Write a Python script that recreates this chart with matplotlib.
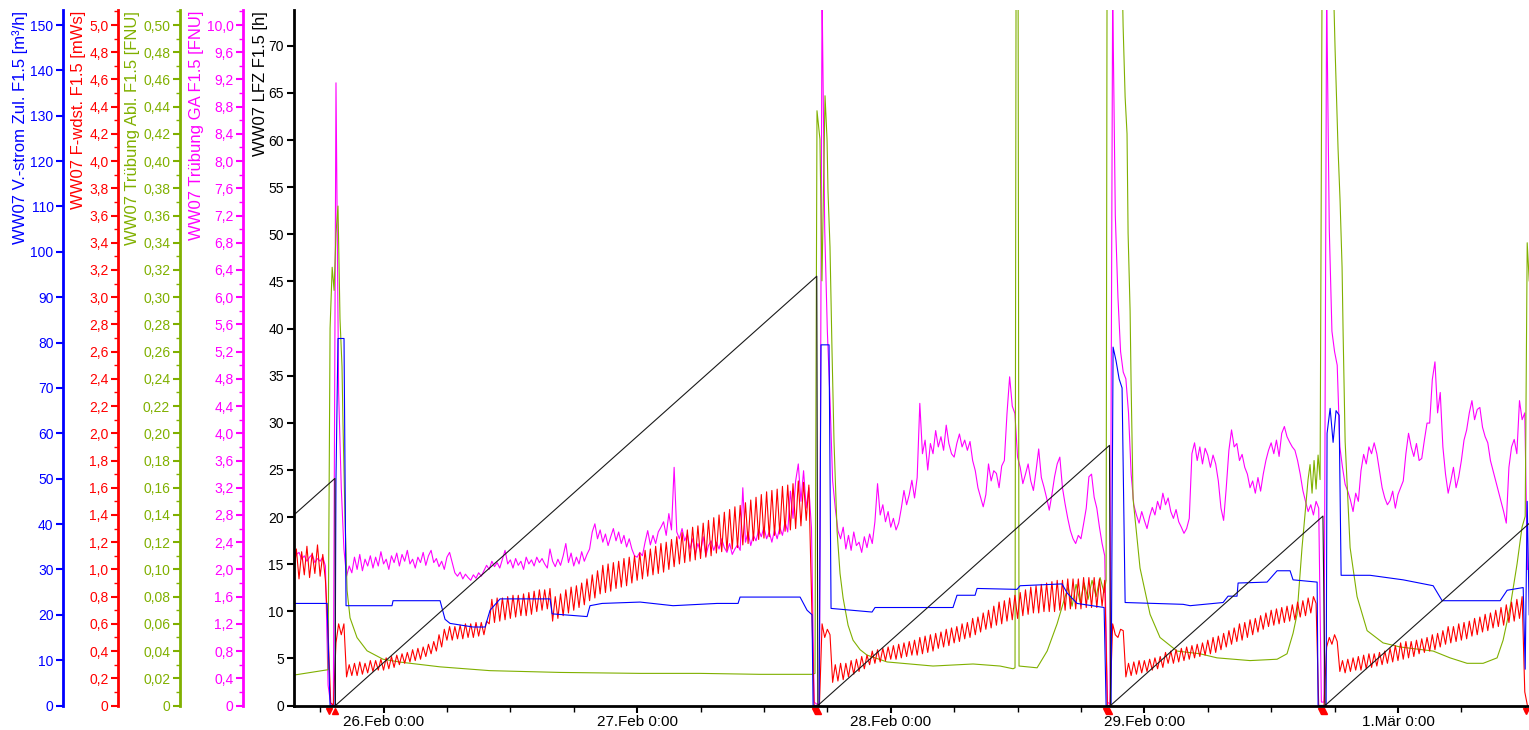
import datetime as dt

import matplotlib
matplotlib.use("Agg")
import matplotlib.pyplot as plt
import matplotlib.dates as mdates
from matplotlib.ticker import MultipleLocator, FuncFormatter
import numpy as np
import pandas as pd

plt.rcParams['font.family'] = ['Liberation Sans', 'DejaVu Sans']

T0 = dt.datetime(2024, 2, 26)
LOG_START = "2024-02-25 15:30"   # 15-min logger values start here

# WW07 F-wdst. F1.5 [mWs], 15-min values
red_mws = [
    0.95, 1.15, 0.93, 1.13, 0.96, 1.17, 0.94, 1.12, 0.97, 1.18,
    0.95, 1.11, 0.92, 0.55, 0.02, 0.00, 0.46, 0.60, 0.52, 0.60,
    0.21, 0.30, 0.22, 0.31, 0.22, 0.32, 0.23, 0.31, 0.24, 0.33,
    0.25, 0.33, 0.26, 0.34, 0.26, 0.35, 0.27, 0.36, 0.28, 0.37,
    0.30, 0.38, 0.31, 0.39, 0.32, 0.41, 0.33, 0.42, 0.34, 0.43,
    0.36, 0.45, 0.38, 0.47, 0.40, 0.52, 0.43, 0.56, 0.48, 0.58,
    0.48, 0.58, 0.49, 0.59, 0.49, 0.60, 0.50, 0.60, 0.50, 0.61,
    0.51, 0.61, 0.52, 0.62, 0.60, 0.78, 0.61, 0.79, 0.62, 0.79,
    0.63, 0.80, 0.64, 0.81, 0.65, 0.81, 0.66, 0.82, 0.66, 0.83,
    0.67, 0.84, 0.69, 0.85, 0.70, 0.85, 0.71, 0.86, 0.62, 0.80,
    0.64, 0.82, 0.66, 0.85, 0.68, 0.87, 0.70, 0.88, 0.72, 0.90,
    0.74, 0.93, 0.77, 0.96, 0.79, 0.99, 0.82, 1.03, 0.83, 1.04,
    0.84, 1.05, 0.86, 1.06, 0.87, 1.08, 0.88, 1.09, 0.90, 1.10,
    0.92, 1.12, 0.93, 1.14, 0.95, 1.15, 0.96, 1.17, 0.97, 1.19,
    0.98, 1.20, 1.00, 1.22, 1.02, 1.24, 1.04, 1.27, 1.05, 1.29,
    1.06, 1.31, 1.07, 1.32, 1.08, 1.34, 1.09, 1.36, 1.10, 1.38,
    1.12, 1.40, 1.13, 1.42, 1.14, 1.44, 1.15, 1.46, 1.16, 1.47,
    1.18, 1.49, 1.19, 1.51, 1.21, 1.53, 1.22, 1.55, 1.23, 1.57,
    1.24, 1.58, 1.25, 1.59, 1.26, 1.61, 1.28, 1.62, 1.29, 1.63,
    1.30, 1.65, 1.32, 1.64, 1.36, 1.62, 0.80, 0.00, 0.00, 0.00,
    0.60, 0.50, 0.56, 0.52, 0.17, 0.30, 0.18, 0.31, 0.19, 0.31,
    0.21, 0.33, 0.23, 0.34, 0.25, 0.36, 0.27, 0.37, 0.30, 0.40,
    0.31, 0.41, 0.32, 0.42, 0.33, 0.43, 0.34, 0.44, 0.34, 0.45,
    0.35, 0.46, 0.36, 0.47, 0.37, 0.48, 0.37, 0.50, 0.38, 0.51,
    0.39, 0.52, 0.40, 0.53, 0.42, 0.54, 0.43, 0.56, 0.44, 0.57,
    0.46, 0.58, 0.47, 0.60, 0.49, 0.61, 0.50, 0.64, 0.52, 0.65,
    0.54, 0.68, 0.56, 0.70, 0.57, 0.73, 0.59, 0.76, 0.60, 0.77,
    0.62, 0.79, 0.63, 0.81, 0.64, 0.83, 0.66, 0.85, 0.67, 0.87,
    0.68, 0.88, 0.68, 0.89, 0.69, 0.90, 0.69, 0.91, 0.69, 0.92,
    0.70, 0.92, 0.70, 0.93, 0.71, 0.93, 0.71, 0.93, 0.71, 0.94,
    0.72, 0.94, 0.72, 0.94, 0.72, 0.93, 0.73, 0.92, 0.00, 0.00,
    0.60, 0.52, 0.50, 0.56, 0.55, 0.21, 0.31, 0.22, 0.32, 0.23,
    0.33, 0.24, 0.33, 0.25, 0.34, 0.26, 0.35, 0.27, 0.36, 0.28,
    0.39, 0.31, 0.40, 0.31, 0.41, 0.32, 0.42, 0.33, 0.43, 0.34,
    0.44, 0.35, 0.45, 0.36, 0.46, 0.37, 0.48, 0.38, 0.50, 0.39,
    0.51, 0.41, 0.53, 0.43, 0.55, 0.45, 0.57, 0.47, 0.60, 0.48,
    0.61, 0.50, 0.63, 0.52, 0.64, 0.54, 0.66, 0.56, 0.68, 0.58,
    0.70, 0.59, 0.71, 0.60, 0.72, 0.61, 0.73, 0.62, 0.74, 0.63,
    0.76, 0.65, 0.77, 0.66, 0.79, 0.68, 0.80, 0.75, 0.00, 0.00,
    0.00, 0.43, 0.50, 0.45, 0.52, 0.47, 0.25, 0.33, 0.24, 0.34,
    0.25, 0.35, 0.26, 0.36, 0.26, 0.37, 0.27, 0.38, 0.28, 0.38,
    0.29, 0.39, 0.30, 0.40, 0.31, 0.42, 0.32, 0.44, 0.33, 0.46,
    0.34, 0.47, 0.35, 0.47, 0.36, 0.48, 0.38, 0.49, 0.39, 0.50,
    0.40, 0.52, 0.41, 0.53, 0.43, 0.55, 0.45, 0.58, 0.46, 0.58,
    0.47, 0.60, 0.48, 0.61, 0.49, 0.62, 0.51, 0.64, 0.52, 0.65,
    0.54, 0.67, 0.55, 0.68, 0.57, 0.70, 0.58, 0.72, 0.59, 0.74,
    0.61, 0.76, 0.62, 0.78, 0.64, 0.80, 0.10, 0.00,
]

# WW07 Trübung GA F1.5 [FNU], 15-min values
ga_fnu = [
    2.30, 2.22, 2.25, 2.15, 2.20, 2.12, 2.18, 2.22, 2.10, 2.16,
    2.12, 2.18, 2.05, 0.30, 0.02, 0.02, 9.15, 4.60, 3.20, 2.30,
    1.90, 2.05, 1.95, 2.18, 2.00, 2.22, 1.98, 2.15, 2.05, 2.20,
    2.02, 2.18, 2.05, 2.26, 2.08, 2.15, 2.00, 2.20, 2.10, 2.24,
    2.05, 2.22, 2.12, 2.28, 2.08, 2.15, 2.02, 2.18, 2.10, 2.25,
    2.06, 2.20, 2.28, 2.10, 2.16, 2.04, 2.12, 2.00, 2.18, 2.25,
    2.10, 1.95, 1.90, 1.96, 1.86, 1.93, 1.88, 1.84, 1.92, 1.87,
    1.95, 1.90, 1.98, 2.06, 2.00, 2.12, 2.04, 2.10, 2.02, 2.15,
    2.28, 2.08, 2.14, 2.02, 2.16, 2.06, 2.12, 2.00, 2.18, 2.08,
    2.14, 2.05, 2.18, 2.10, 2.16, 2.08, 2.02, 2.30, 2.12, 2.04,
    2.15, 2.06, 2.20, 2.38, 2.10, 2.24, 2.05, 2.18, 2.08, 2.26,
    2.12, 2.22, 2.30, 2.55, 2.67, 2.45, 2.58, 2.40, 2.52, 2.35,
    2.48, 2.60, 2.42, 2.55, 2.38, 2.50, 2.33, 2.45, 2.30, 2.20,
    2.18, 2.25, 2.20, 2.40, 2.57, 2.36, 2.50, 2.38, 2.55, 2.62,
    2.70, 2.50, 2.82, 2.58, 3.50, 2.55, 2.45, 2.60, 2.42, 2.52,
    2.30, 2.45, 2.22, 2.38, 2.25, 2.48, 2.20, 2.35, 2.42, 2.28,
    2.40, 2.30, 2.45, 2.32, 2.25, 2.38, 2.22, 2.30, 2.36, 2.28,
    3.20, 2.40, 2.55, 2.35, 2.50, 2.42, 2.58, 2.48, 2.62, 2.45,
    2.55, 2.40, 2.58, 2.45, 2.62, 2.50, 2.70, 2.55, 3.15, 2.75,
    3.30, 3.55, 3.00, 3.45, 2.90, 3.20, 2.60, 0.05, 0.02, 0.02,
    10.5, 7.00, 5.50, 4.50, 3.30, 2.90, 2.57, 2.45, 2.62, 2.30,
    2.50, 2.28, 2.55, 2.35, 2.40, 2.25, 2.48, 2.32, 2.52, 2.38,
    2.70, 3.26, 2.80, 2.95, 2.70, 2.85, 2.62, 2.75, 2.58, 2.68,
    2.90, 3.16, 2.95, 3.10, 3.31, 3.05, 3.35, 4.44, 3.70, 3.90,
    3.46, 3.85, 3.70, 4.04, 3.80, 3.95, 3.75, 4.12, 3.85, 3.70,
    3.65, 3.85, 3.99, 3.80, 3.90, 3.75, 3.88, 3.60, 3.45, 3.20,
    3.06, 2.92, 3.10, 3.55, 3.30, 3.45, 3.41, 3.20, 3.52, 3.60,
    4.29, 4.83, 4.40, 4.29, 3.65, 3.50, 3.26, 3.40, 3.55, 3.30,
    3.16, 3.45, 3.77, 3.35, 3.21, 3.05, 2.87, 3.10, 3.36, 3.55,
    3.65, 3.20, 2.96, 2.75, 2.57, 2.45, 2.38, 2.50, 2.45, 2.67,
    2.90, 3.36, 3.40, 3.06, 2.90, 2.62, 2.38, 2.20, 0.05, 0.02,
    10.5, 7.20, 6.00, 5.20, 4.90, 4.80, 4.30, 3.40, 2.95, 2.80,
    2.68, 2.85, 2.72, 2.60, 2.78, 2.91, 2.80, 3.00, 2.88, 3.12,
    2.95, 3.05, 2.85, 2.75, 2.88, 2.70, 2.62, 2.53, 2.60, 2.75,
    3.70, 3.86, 3.60, 3.80, 3.55, 3.78, 3.68, 3.50, 3.68, 3.55,
    3.30, 2.90, 2.72, 3.20, 3.75, 4.05, 3.80, 3.85, 3.60, 3.69,
    3.50, 3.40, 3.20, 3.30, 3.12, 3.35, 3.15, 3.40, 3.60, 3.75,
    3.86, 3.70, 3.90, 3.66, 4.00, 4.10, 3.95, 3.87, 3.80, 3.75,
    3.60, 3.40, 3.16, 3.00, 2.85, 2.95, 2.80, 3.00, 2.90, 0.05,
    0.05, 10.5, 7.00, 5.50, 5.20, 5.00, 3.80, 3.50, 3.25, 3.15,
    3.02, 2.85, 3.12, 3.00, 3.45, 3.69, 3.55, 3.80, 3.70, 3.86,
    3.70, 3.45, 3.20, 3.05, 2.95, 3.01, 3.15, 2.90, 3.10, 3.20,
    3.30, 3.70, 4.00, 3.80, 3.66, 3.85, 3.60, 3.63, 3.90, 4.15,
    4.15, 4.79, 5.05, 4.30, 4.60, 3.80, 3.40, 3.12, 3.30, 3.50,
    3.20, 3.36, 3.60, 3.90, 4.05, 4.30, 4.48, 4.20, 4.35, 4.38,
    4.09, 3.95, 3.86, 3.60, 3.45, 3.30, 3.15, 3.00, 2.85, 2.68,
    3.50, 3.80, 3.91, 3.70, 4.48, 4.20, 4.30, 2.00,
]

# WW07 V.-strom Zul. F1.5 [m³/h]: (hours after 26.02. 0:00, value)
flow_pts = [
    (-8.6, 22.5), (-5.34, 22.5), (-5.25, 15.0), (-5.06, 0.0), (-4.59, 0.0),
    (-4.50, 50.0), (-4.31, 80.9), (-3.74, 80.9), (-3.55, 22.0), (0.80, 22.0),
    (0.90, 23.1), (5.35, 23.1), (5.82, 19.0), (6.29, 18.1), (8.47, 17.3),
    (9.61, 17.3), (10.08, 21.0), (11.03, 23.5), (15.76, 23.5), (15.95, 20.2),
    (19.26, 19.6), (19.54, 22.0), (20.68, 22.5), (24.28, 22.8), (27.40, 22.0),
    (31.56, 22.5), (33.55, 22.5), (33.74, 23.9), (39.42, 23.9), (40.08, 21.0),
    (40.55, 20.0), (40.65, 0.0), (41.22, 0.0), (41.40, 79.5), (42.16, 79.5),
    (42.35, 21.4), (46.23, 20.6), (46.51, 21.6), (53.89, 21.6), (54.27, 24.3),
    (55.98, 24.3), (56.17, 25.8), (59.95, 25.6), (60.24, 26.4), (64.21, 26.8),
    (64.69, 24.8), (65.63, 22.5), (68.19, 21.6), (68.38, 0.0), (68.85, 0.0),
    (69.04, 79.0), (69.32, 76.0), (69.61, 72.0), (69.89, 70.0), (70.18, 22.7),
    (75.67, 22.3), (76.33, 22.0), (79.45, 22.7), (79.92, 24.1), (80.77, 24.1),
    (80.87, 27.0), (83.61, 27.2), (84.56, 29.7), (85.79, 29.7), (86.07, 27.7),
    (88.35, 27.2), (88.44, 0.0), (89.20, 0.0), (89.29, 60.0), (89.58, 65.5),
    (89.86, 58.0), (90.14, 65.0), (90.43, 64.0), (90.62, 28.7), (93.36, 28.7),
    (96.49, 27.7), (99.33, 26.4), (100.18, 23.1), (105.67, 23.1), (106.33, 25.4),
    (107.85, 26.0), (108.04, 8.0), (108.23, 45.0), (108.42, 20.0),
]

# WW07 Trübung Abl. F1.5 [FNU]
abl_pts = [
    (-8.6, 0.0222), (-5.25, 0.0263), (-5.06, 0.277), (-4.86, 0.322), (-4.68, 0.305),
    (-4.50, 0.347), (-4.31, 0.367), (-4.12, 0.284), (-3.93, 0.249), (-3.84, 0.208),
    (-3.65, 0.139), (-3.45, 0.0845), (-3.17, 0.0644), (-2.51, 0.0499), (-1.56, 0.0402),
    (-0.05, 0.0340), (1.56, 0.0319), (5.35, 0.0284), (10.08, 0.0256), (16.70, 0.0243),
    (24.28, 0.0236), (29.95, 0.0236), (35.63, 0.0229), (40.55, 0.0229), (40.83, 0.0236),
    (41.02, 0.437), (41.30, 0.416), (41.49, 0.312), (41.78, 0.448), (41.97, 0.416),
    (42.06, 0.378), (42.25, 0.337), (42.44, 0.261), (42.63, 0.194), (42.92, 0.128),
    (43.20, 0.097), (43.49, 0.079), (43.96, 0.059), (44.43, 0.048), (45.10, 0.041),
    (45.76, 0.037), (47.65, 0.032), (52.00, 0.029), (55.79, 0.0305), (58.34, 0.029),
    (59.57, 0.027), (59.76, 0.0277), (59.86, 0.54), (60.05, 0.54), (60.14, 0.029),
    (61.85, 0.0277), (62.80, 0.040), (63.74, 0.060), (64.31, 0.075), (64.78, 0.087),
    (65.16, 0.073), (65.54, 0.089), (65.92, 0.076), (66.30, 0.090), (66.67, 0.078),
    (67.05, 0.092), (67.43, 0.080), (67.81, 0.094), (68.19, 0.083), (68.38, 0.092),
    (68.47, 0.54), (69.89, 0.54), (69.99, 0.499), (70.18, 0.447), (70.36, 0.420),
    (70.46, 0.347), (70.65, 0.290), (70.74, 0.239), (70.93, 0.152), (71.59, 0.101),
    (72.54, 0.067), (73.48, 0.050), (75.09, 0.040), (77.27, 0.038), (78.88, 0.035),
    (82.00, 0.033), (84.56, 0.034), (85.50, 0.038), (86.07, 0.053), (86.45, 0.067),
    (86.92, 0.116), (87.21, 0.141), (87.49, 0.166), (87.68, 0.177), (87.87, 0.156),
    (88.06, 0.180), (88.25, 0.159), (88.44, 0.184), (88.63, 0.166), (88.82, 0.54),
    (89.86, 0.54), (90.05, 0.482), (90.33, 0.409), (90.52, 0.371), (90.71, 0.322),
    (90.81, 0.273), (91.00, 0.194), (91.47, 0.116), (92.13, 0.080), (93.08, 0.055),
    (94.59, 0.046), (96.20, 0.043), (99.33, 0.040), (100.93, 0.035), (102.54, 0.031),
    (104.06, 0.031), (105.38, 0.035), (105.95, 0.048), (106.61, 0.072), (107.27, 0.104),
    (107.74, 0.131), (108.04, 0.139), (108.23, 0.340), (108.42, 0.312),
]

# WW07 LFZ F1.5 [h] - runtime since last backwash
lfz_pts = [
    (-8.6, 20.1), (-4.6, 24.1), (-4.55, 0.0), (41.0, 45.55), (41.1, 0.0),
    (68.7, 27.6), (68.8, 0.0), (88.9, 20.1), (89.1, 0.0), (108.5, 19.4),
]

# backwash start / end events [h]
bw_start = [-5.16, 40.83, 68.38, 88.72, 108.14]
bw_end = [-4.59, 41.12, 68.66, 89.0]

MONATE = ['Jan', 'Feb', 'Mär', 'Apr', 'Mai', 'Jun',
          'Jul', 'Aug', 'Sep', 'Okt', 'Nov', 'Dez']

BLUE = '#0000ff'
RED = '#ff0000'
GREEN = '#80b000'
MAGENTA = '#ff00ff'


def to_time(hours):
    return T0 + pd.to_timedelta(np.asarray(hours, dtype=float), unit='h')


def unzip(pts):
    h, v = zip(*pts)
    return to_time(h), np.array(v)


def comma(dec):
    def f(v, _):
        if abs(v) < 1e-9:
            return "0"
        return f"{v:.{dec}f}".replace(".", ",")
    return f


def date_label(v, _):
    d = mdates.num2date(v)
    return f"{d.day}.{MONATE[d.month - 1]} {d.hour}:{d.minute:02d}"


def side_axis(host, pos, color, top, major, minor, fmt, z):
    a = host.twinx()
    a.yaxis.tick_left()
    for s in a.spines.values():
        s.set_visible(False)
    sp = a.spines['left']
    sp.set_visible(True)
    sp.set_position(('axes', pos))
    sp.set_color(color)
    sp.set_linewidth(2)
    a.set_ylim(0, top)
    a.yaxis.set_major_locator(MultipleLocator(major))
    if minor:
        a.yaxis.set_minor_locator(MultipleLocator(minor))
    a.yaxis.set_major_formatter(FuncFormatter(fmt))
    a.tick_params(axis='y', which='both', colors=color, labelsize=10, direction='out')
    a.tick_params(axis='y', which='major', length=5, width=1.5, pad=2)
    a.tick_params(axis='y', which='minor', length=3, width=1)
    a.set_zorder(z)
    return a


fig = plt.figure(figsize=(15.29, 7.30), dpi=100)
ax = fig.add_axes([0.19196, 0.03356, 0.80804, 0.9527])

ax_q = side_axis(ax, -0.1863, BLUE, 153.3, 10, None, comma(0), 4)
ax_p = side_axis(ax, -0.1418, RED, 5.11, 0.2, 0.1, comma(1), 3)
ax_a = side_axis(ax, -0.0919, GREEN, 0.511, 0.02, 0.01, comma(2), 2)
ax_g = side_axis(ax, -0.0406, MAGENTA, 10.22, 0.4, 0.2, comma(1), 1)

grid = pd.date_range(LOG_START, periods=len(red_mws), freq='15min')
ax_g.plot(pd.date_range(LOG_START, periods=len(ga_fnu), freq='15min'), ga_fnu,
          color=MAGENTA, lw=0.8)
ax_a.plot(*unzip(abl_pts), color=GREEN, lw=0.8)
ax_p.plot(grid, red_mws, color=RED, lw=0.8)
ax_q.plot(*unzip(flow_pts), color=BLUE, lw=0.8)

# host axis: runtime, drawn on top
ax.set_zorder(10)
ax.patch.set_visible(False)
ax.plot(*unzip(lfz_pts), color='#1a1a1a', lw=0.8)
ax.plot(to_time(bw_start), [-0.6] * len(bw_start), 'v', color=RED, ms=4.5, clip_on=False)
ax.plot(to_time(bw_end), [-0.6] * len(bw_end), '^', color=RED, ms=4.5, clip_on=False)

ax.set_ylim(0, 73.79)
ax.yaxis.set_major_locator(MultipleLocator(5))
ax.yaxis.set_major_formatter(FuncFormatter(comma(0)))
ax.set_xlim(T0 - dt.timedelta(hours=8.52), T0 + dt.timedelta(hours=108.4))
ax.xaxis.set_major_locator(mdates.DayLocator())
ax.xaxis.set_minor_locator(mdates.HourLocator(byhour=[6, 12, 18]))
ax.xaxis.set_major_formatter(FuncFormatter(date_label))
for side in ('top', 'right'):
    ax.spines[side].set_visible(False)
for side in ('left', 'bottom'):
    ax.spines[side].set_linewidth(2)
ax.tick_params(which='both', colors='black', labelsize=10, direction='out')
ax.tick_params(which='major', length=5, width=1.5, pad=2)
ax.tick_params(which='minor', length=4, width=1)
ax.tick_params(axis='x', labelsize=11)

label_y = 1 - 11 / 730
labels = [
    (20, 'WW07 V.-strom Zul. F1.5 [m³/h]', BLUE),
    (79, 'WW07 F-wdst. F1.5 [mWs]', RED),
    (132, 'WW07 Trübung Abl. F1.5 [FNU]', GREEN),
    (196, 'WW07 Trübung GA F1.5 [FNU]', MAGENTA),
    (260, 'WW07 LFZ F1.5 [h]', 'black'),
]
for x, text, col in labels:
    fig.text(x / 1529, label_y, text, rotation=90, ha='center', va='top',
             color=col, fontsize=12)

fig.savefig('out.png', dpi=100)
